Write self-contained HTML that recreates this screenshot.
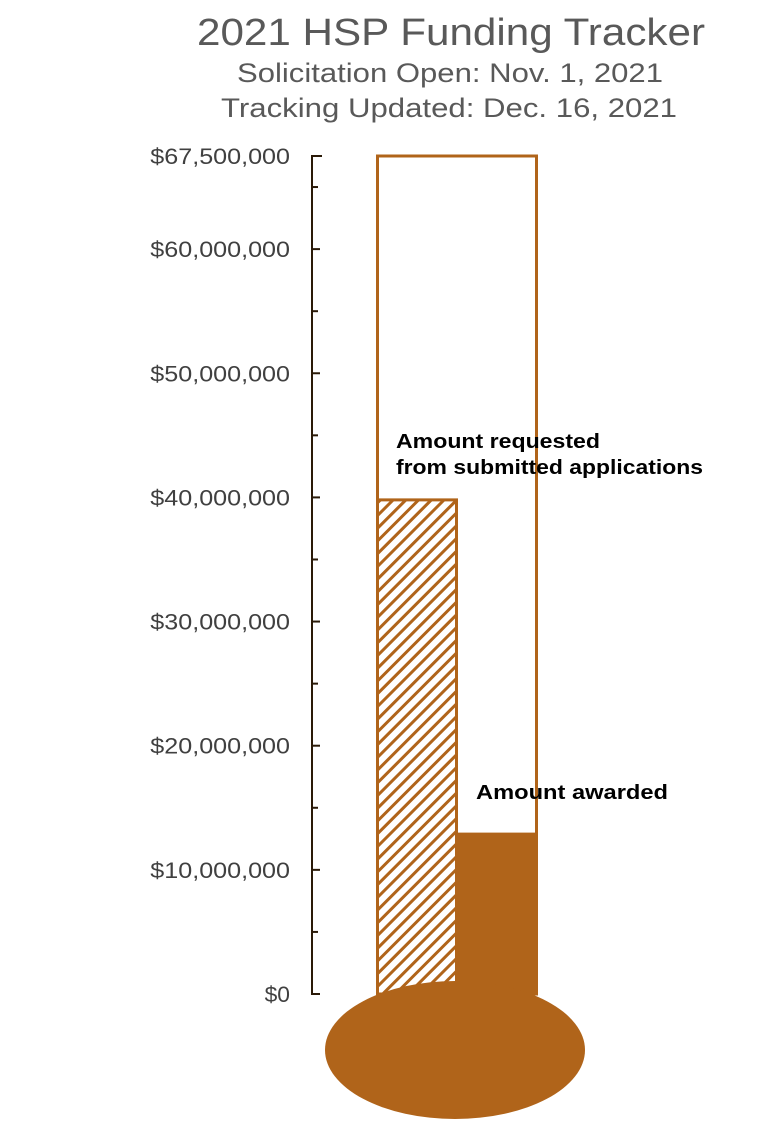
<!DOCTYPE html>
<html><head><meta charset="utf-8"><style>
html,body{margin:0;padding:0;background:#fff;}
svg{display:block;font-family:"Liberation Sans",sans-serif;}
</style></head><body>
<svg id="chart" width="759" height="1125" viewBox="0 0 759 1125">
<defs>
<pattern id="hatch" patternUnits="userSpaceOnUse" width="9" height="9" patternTransform="rotate(45)">
<rect width="9" height="9" fill="#fff"/>
<rect width="3" height="9" fill="#B0641A"/>
</pattern>
</defs>
<text x="197" y="45" textLength="508" lengthAdjust="spacingAndGlyphs" font-size="38" fill="#595959">2021 HSP Funding Tracker</text>
<text x="237" y="82" textLength="426" lengthAdjust="spacingAndGlyphs" font-size="27" fill="#595959">Solicitation Open: Nov. 1, 2021</text>
<text x="221" y="117" textLength="456" lengthAdjust="spacingAndGlyphs" font-size="27" fill="#595959">Tracking Updated: Dec. 16, 2021</text>
<g id="axis"></g>
<g id="marks"></g>
<text x="396" y="448" textLength="204" lengthAdjust="spacingAndGlyphs" font-size="20" font-weight="bold" fill="#000">Amount requested</text>
<text x="396" y="474" textLength="307" lengthAdjust="spacingAndGlyphs" font-size="20" font-weight="bold" fill="#000">from submitted applications</text>
<text x="476" y="799" textLength="192" lengthAdjust="spacingAndGlyphs" font-size="20" font-weight="bold" fill="#000">Amount awarded</text>
</svg>
<script>
const tickValues = [0, 10, 20, 30, 40, 50, 60, 67.5];
const tickLabels = ["$0","$10,000,000","$20,000,000","$30,000,000","$40,000,000","$50,000,000","$60,000,000","$67,500,000"];
const minorTicks = [5, 15, 25, 35, 45, 55, 65];
const goal = [67.5];
const requested = [39.8];
const awarded = [13.0];

const NS = "http://www.w3.org/2000/svg";
const y0 = 994, y1 = 156, vmax = 67.5;
function y(v){ return y0 - (v / vmax) * (y0 - y1); }
function mk(tag, attrs, parent){ const e = document.createElementNS(NS, tag); for (const k in attrs) e.setAttribute(k, attrs[k]); parent.appendChild(e); return e; }
const axis = document.getElementById('axis');
const marks = document.getElementById('marks');
const ink = "#2a1a08", brown = "#B0641A";

const al = mk('line', {x1:312, x2:312, y1:y(0), y2:y(vmax), stroke:ink, 'stroke-width':2}, axis);


tickValues.forEach((v, i) => {
  const t = mk('line', {x1:311, x2:i===tickValues.length-1?322:320, y1:y(v), y2:y(v), stroke:ink, 'stroke-width':2}, axis);
  
  
  const w = tickLabels[i].length * 12.7;
  const l = mk('text', {x:290, y:y(v)+8, 'text-anchor':'end', 'font-size':22, fill:'#404040', textLength:w, lengthAdjust:'spacingAndGlyphs'}, axis);
  l.textContent = tickLabels[i];
  
  
});
minorTicks.forEach(v => {
  const t = mk('line', {x1:311, x2:318, y1:y(v), y2:y(v), stroke:ink, 'stroke-width':2}, axis);
  
  
});

const tube = mk('rect', {x:377.5, y:y(goal[0]), width:159, height:y(0)-y(goal[0]), fill:'#fff', stroke:brown, 'stroke-width':3}, marks);


const req = mk('rect', {x:377.5, y:y(requested[0]), width:79, height:y(0)-y(requested[0]), fill:'url(#hatch)', stroke:brown, 'stroke-width':3}, marks);


const aw = mk('rect', {x:457, y:y(awarded[0]), width:81, height:y(0)-y(awarded[0]), fill:brown}, marks);


const bulb = mk('ellipse', {cx:455, cy:1050, rx:130, ry:69, fill:brown}, marks);


</script>
</body></html>
